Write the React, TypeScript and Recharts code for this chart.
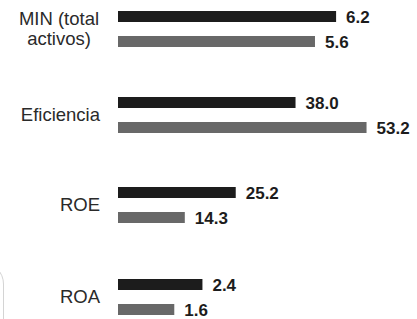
import React from "react";
import { BarChart, Bar, XAxis, YAxis, LabelList } from "recharts";

const categories = ["MIN (total\nactivos)", "Eficiencia", "ROE", "ROA"];
const seriesDark = [6.2, 38.0, 25.2, 2.4];
const seriesGrey = [5.6, 53.2, 14.3, 1.6];
const axisMax = [8.5, 64, 64, 8.5];
const centersY = [29, 114.5, 205, 297];

const FONT = "'Liberation Sans', Arial, sans-serif";
const CHART_H = 60;

const CatTick = (props: any) => {
  const { x, y, payload } = props;
  const lines = String(payload.value).split("\n");
  if (lines.length === 1) {
    return (
      <text x={x} y={y} dy={6} textAnchor="end" fontFamily={FONT} fontSize={18.5} fill="#2a2a2a">
        {lines[0]}
      </text>
    );
  }
  return (
    <text x={x - 41} y={y} textAnchor="middle" fontFamily={FONT} fontSize={18.5} fill="#2a2a2a">
      {lines.map((l, i) => (
        <tspan key={i} x={x - 41} dy={i === 0 ? -4 : 20}>
          {l}
        </tspan>
      ))}
    </text>
  );
};

const fmt = (v: any) => Number(v).toFixed(1);

export default function App() {
  return (
    <div style={{ position: "absolute", left: 0, top: 0, width: 417, height: 319, background: "#fff", overflow: "hidden" }}>
      <div
        style={{
          position: "absolute",
          left: -40,
          top: 262,
          width: 44,
          height: 100,
          border: "1.5px solid #d4d4d4",
          borderTopRightRadius: 22,
          boxSizing: "border-box",
        }}
      />
      {categories.map((cat, i) => {
        const data = [{ name: cat, dark: seriesDark[i], grey: seriesGrey[i] }];
        return (
          <div key={i} style={{ position: "absolute", left: 0, top: centersY[i] - CHART_H / 2 }}>
            <BarChart
              width={417}
              height={CHART_H}
              data={data}
              layout="vertical"
              margin={{ top: 0, right: 0, bottom: 0, left: 0 }}
              barSize={11}
              barGap={14}
            >
              <XAxis type="number" domain={[0, axisMax[i]]} hide />
              <YAxis
                type="category"
                dataKey="name"
                width={118}
                axisLine={false}
                tickLine={false}
                tickMargin={12}
                tick={<CatTick />}
                interval={0}
              />
              <Bar dataKey="dark" fill="#1c1c1c" isAnimationActive={false}>
                <LabelList
                  dataKey="dark"
                  position="right"
                  offset={10}
                  formatter={fmt}
                  fill="#1c1c1c"
                  fontFamily={FONT}
                  fontSize={17}
                  fontWeight={700}
                />
              </Bar>
              <Bar dataKey="grey" fill="#686868" isAnimationActive={false}>
                <LabelList
                  dataKey="grey"
                  position="right"
                  offset={10}
                  formatter={fmt}
                  fill="#1c1c1c"
                  fontFamily={FONT}
                  fontSize={17}
                  fontWeight={700}
                />
              </Bar>
            </BarChart>
          </div>
        );
      })}
    </div>
  );
}
